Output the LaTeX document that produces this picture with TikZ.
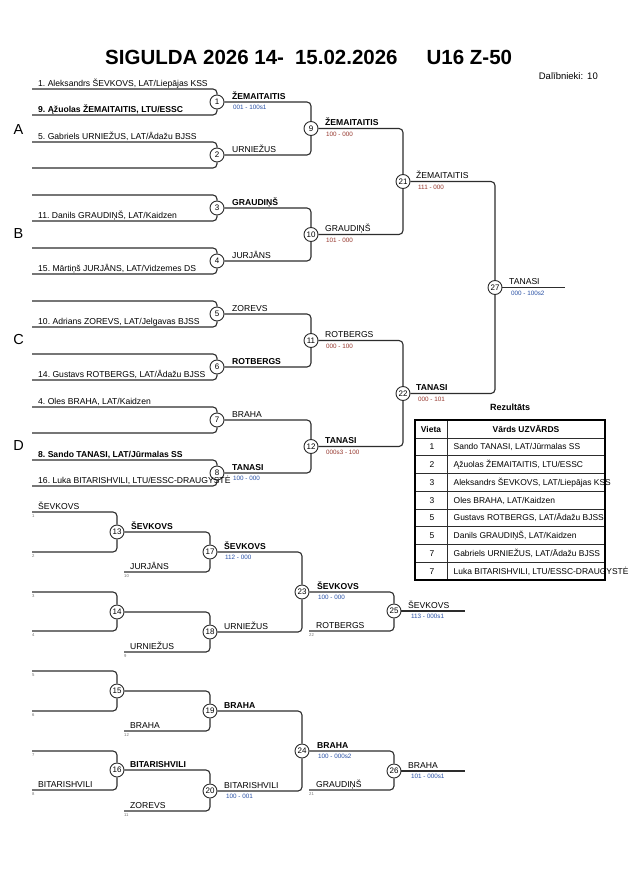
\documentclass[tikz,border=0pt]{standalone}
\usepackage{fontspec}
\setmainfont{Liberation Sans}
\definecolor{sblue}{RGB}{40,80,165}
\definecolor{sred}{RGB}{150,55,45}
\definecolor{lnc}{RGB}{45,45,45}
\frenchspacing
\begin{document}
\begin{tikzpicture}[x=1pt,y=-1pt,
  ln/.style={draw=lnc, line width=1.1pt, rounded corners=4pt},
  circ/.style={circle, draw=lnc, line width=0.9pt, fill=white, minimum size=14pt, inner sep=0pt, font=\fontsize{8}{9}\selectfont},
  txt/.style={anchor=base west, inner sep=0pt, font=\fontsize{8.6}{10}\selectfont},
  txtb/.style={anchor=base west, inner sep=0pt, font=\fontsize{8.6}{10}\selectfont\bfseries},
  score/.style={anchor=base west, inner sep=0pt, font=\fontsize{6.3}{7}\selectfont},
  sb/.style={score, text=sblue},
  sr/.style={score, text=sred},
  num/.style={anchor=base west, inner sep=0pt, font=\fontsize{4.2}{5}\selectfont, text=black!55},
  grp/.style={inner sep=0pt, font=\fontsize{14.5}{16}\selectfont},
  tline/.style={draw=lnc, line width=0.8pt},
  tcell/.style={anchor=base west, inner sep=0pt, font=\fontsize{8.45}{10}\selectfont},
  tnum/.style={anchor=base, inner sep=0pt, font=\fontsize{8.45}{10}\selectfont},
]
\useasboundingbox (0,0) rectangle (630,891);
\fill[white] (0,0) rectangle (630,891);

% title
\node[anchor=base west, inner sep=0pt, font=\fontsize{20.5}{24}\selectfont\bfseries] (title) at (105,65)
  {SIGULDA 2026 14-\hspace{11pt}15.02.2026\hspace{29pt}U16 Z-50};
\node[anchor=base east, inner sep=0pt, font=\fontsize{9.5}{11}\selectfont] (dal) at (598,79) {Dalībnieki:\hspace{4pt}10};

% ---------- main bracket ----------
\foreach \k/\yt in {1/89,2/142,3/195,4/248,5/301,6/354,7/407,8/460} {
  \node[circ] (m\k) at (217,\yt+13) {\k};
  \coordinate (t\k) at (32,\yt);
  \coordinate (b\k) at (32,\yt+26);
  \draw[ln] (t\k) -| (m\k);
  \draw[ln] (b\k) -| (m\k);
}
\node[circ] (m9) at (311,128.5) {9};
\node[circ] (m10) at (311,234.5) {10};
\node[circ] (m11) at (311,340.5) {11};
\node[circ] (m12) at (311,446.5) {12};
\node[circ] (m21) at (403,181.5) {21};
\node[circ] (m22) at (403,393.5) {22};
\node[circ] (m27) at (495,287.5) {27};
\coordinate (fin) at (565,287.5);

\draw[ln] (m1) -| (m9);  \draw[ln] (m2) -| (m9);
\draw[ln] (m3) -| (m10); \draw[ln] (m4) -| (m10);
\draw[ln] (m5) -| (m11); \draw[ln] (m6) -| (m11);
\draw[ln] (m7) -| (m12); \draw[ln] (m8) -| (m12);
\draw[ln] (m9) -| (m21); \draw[ln] (m10) -| (m21);
\draw[ln] (m11) -| (m22); \draw[ln] (m12) -| (m22);
\draw[ln] (m21) -| (m27); \draw[ln] (m22) -| (m27);
\draw[ln] (m27) -- (fin);

% group letters
\node[grp] (gA) at (18.5,129.5) {A};
\node[grp] (gB) at (18.5,234) {B};
\node[grp] (gC) at (18.5,339.5) {C};
\node[grp] (gD) at (18.5,446) {D};

% entries
\node[txt] (p1) at (38,86) {1. Aleksandrs ŠEVKOVS, LAT/Liepājas KSS};
\node[txtb] (p9) at (38,112) {9. Ąžuolas ŽEMAITAITIS, LTU/ESSC};
\node[txt] (p5) at (38,139) {5. Gabriels URNIEŽUS, LAT/Ādažu BJSS};
\node[txt] (p11) at (38,218) {11. Danils GRAUDIŅŠ, LAT/Kaidzen};
\node[txt] (p15) at (38,271) {15. Mārtiņš JURJĀNS, LAT/Vidzemes DS};
\node[txt] (p10) at (38,324) {10. Adrians ZOREVS, LAT/Jelgavas BJSS};
\node[txt] (p14) at (38,377) {14. Gustavs ROTBERGS, LAT/Ādažu BJSS};
\node[txt] (p4) at (38,404) {4. Oles BRAHA, LAT/Kaidzen};
\node[txtb] (p8) at (38,457) {8. Sando TANASI, LAT/Jūrmalas SS};
\node[txt] (p16) at (38,483) {16. Luka BITARISHVILI, LTU/ESSC-DRAUGYSTĖ};

% round 1 winners
\node[txtb] (w1) at (232,99) {ŽEMAITAITIS};
\node[sb] (s1) at (233,109.5) {001 - 100s1};
\node[txt] (w2) at (232,152) {URNIEŽUS};
\node[txtb] (w3) at (232,205) {GRAUDIŅŠ};
\node[txt] (w4) at (232,258) {JURJĀNS};
\node[txt] (w5) at (232,311) {ZOREVS};
\node[txtb] (w6) at (232,364) {ROTBERGS};
\node[txt] (w7) at (232,417) {BRAHA};
\node[txtb] (w8) at (232,470) {TANASI};
\node[sb] (s8) at (233,480.5) {100 - 000};

% round 2 winners
\node[txtb] (w9) at (325,125.5) {ŽEMAITAITIS};
\node[sr] (s9) at (326,136) {100 - 000};
\node[txt] (w10) at (325,231.5) {GRAUDIŅŠ};
\node[sr] (s10) at (326,242) {101 - 000};
\node[txt] (w11) at (325,337.5) {ROTBERGS};
\node[sr] (s11) at (326,348) {000 - 100};
\node[txtb] (w12) at (325,443.5) {TANASI};
\node[sr] (s12) at (326,454) {000s3 - 100};

% round 3 and final
\node[txt] (w21) at (416,178.5) {ŽEMAITAITIS};
\node[sr] (s21) at (418,189) {111 - 000};
\node[txtb] (w22) at (416,390.5) {TANASI};
\node[sr] (s22) at (418,401) {000 - 101};
\node[txt] (w27) at (509,284.5) {TANASI};
\node[sb] (s27) at (511,295) {000 - 100s2};

% ---------- results table ----------
\node[anchor=base, inner sep=0pt, font=\fontsize{9}{10}\selectfont\bfseries] (rez) at (510,410) {Rezultāts};
\foreach \i in {1,...,8} {
  \draw[tline] (415,{438+17.75*(\i-1)}) -- (605,{438+17.75*(\i-1)});
}
\draw[tline] (447,420) -- (447,580);
\draw[draw=black, line width=2pt] (415,420) rectangle (605,580);
\node[tnum, font=\fontsize{8.45}{10}\selectfont\bfseries] (hv) at (431,432) {Vieta};
\node[tnum, font=\fontsize{8.45}{10}\selectfont\bfseries] (hn) at (526,432) {Vārds UZVĀRDS};
\foreach \i/\pl/\nm in {1/1/{Sando TANASI, LAT/Jūrmalas SS},
                        2/2/{Ąžuolas ŽEMAITAITIS, LTU/ESSC},
                        3/3/{Aleksandrs ŠEVKOVS, LAT/Liepājas KSS},
                        4/3/{Oles BRAHA, LAT/Kaidzen},
                        5/5/{Gustavs ROTBERGS, LAT/Ādažu BJSS},
                        6/5/{Danils GRAUDIŅŠ, LAT/Kaidzen},
                        7/7/{Gabriels URNIEŽUS, LAT/Ādažu BJSS},
                        8/7/{Luka BITARISHVILI, LTU/ESSC-DRAUGYSTĖ}} {
  \node[tnum] (rp\i) at (432,{438+17.75*(\i-0.5)+3}) {\pl};
  \node[tcell] (rn\i) at (453.5,{438+17.75*(\i-0.5)+3}) {\nm};
}

% ---------- repechage block 1 ----------
\node[circ] (c13) at (117,532) {13};
\node[circ] (c14) at (117,612) {14};
\node[circ] (c17) at (210,552) {17};
\node[circ] (c18) at (210,632) {18};
\node[circ] (c23) at (302,592) {23};
\node[circ] (c25) at (394,611) {25};
\coordinate (r1) at (32,512);  \coordinate (r2) at (32,552);
\coordinate (r3) at (32,592);  \coordinate (r4) at (32,631);
\coordinate (r10) at (124,572); \coordinate (r9) at (124,652);
\coordinate (r22) at (309,631); \coordinate (f25) at (465,611);
\draw[ln] (r1) -| (c13); \draw[ln] (r2) -| (c13);
\draw[ln] (r3) -| (c14); \draw[ln] (r4) -| (c14);
\draw[ln] (c13) -| (c17); \draw[ln] (r10) -| (c17);
\draw[ln] (c14) -| (c18); \draw[ln] (r9) -| (c18);
\draw[ln] (c17) -| (c23); \draw[ln] (c18) -| (c23);
\draw[ln] (c23) -| (c25); \draw[ln] (r22) -| (c25);
\draw[ln] (c25) -- (f25);

\node[txt] (q1) at (38,509) {ŠEVKOVS};
\node[num] (n1) at (32,517) {1};
\node[num] (n2) at (32,557) {2};
\node[num] (n3) at (32,597) {3};
\node[num] (n4) at (32,636) {4};
\node[txtb] (q13) at (131,529) {ŠEVKOVS};
\node[txt] (q10) at (130,569) {JURJĀNS};
\node[num] (n10) at (124,577) {10};
\node[txt] (q9) at (130,649) {URNIEŽUS};
\node[num] (n9) at (124,657) {9};
\node[txtb] (q17) at (224,549) {ŠEVKOVS};
\node[sb] (s17) at (225,559.5) {112 - 000};
\node[txt] (q18) at (224,629) {URNIEŽUS};
\node[txtb] (q23) at (317,589) {ŠEVKOVS};
\node[sb] (s23) at (318,599.5) {100 - 000};
\node[txt] (q22) at (316,628) {ROTBERGS};
\node[num] (n22) at (309,636) {22};
\node[txt] (q25) at (408,608) {ŠEVKOVS};
\node[sb] (s25) at (411,618.5) {113 - 000s1};

% ---------- repechage block 2 ----------
\node[circ] (c15) at (117,691) {15};
\node[circ] (c16) at (117,770) {16};
\node[circ] (c19) at (210,711) {19};
\node[circ] (c20) at (210,791) {20};
\node[circ] (c24) at (302,751) {24};
\node[circ] (c26) at (394,771) {26};
\coordinate (r5) at (32,671);  \coordinate (r6) at (32,711);
\coordinate (r7) at (32,751);  \coordinate (r8) at (32,790);
\coordinate (r12) at (124,731); \coordinate (r11) at (124,811);
\coordinate (r21) at (309,790); \coordinate (f26) at (465,771);
\draw[ln] (r5) -| (c15); \draw[ln] (r6) -| (c15);
\draw[ln] (r7) -| (c16); \draw[ln] (r8) -| (c16);
\draw[ln] (c15) -| (c19); \draw[ln] (r12) -| (c19);
\draw[ln] (c16) -| (c20); \draw[ln] (r11) -| (c20);
\draw[ln] (c19) -| (c24); \draw[ln] (c20) -| (c24);
\draw[ln] (c24) -| (c26); \draw[ln] (r21) -| (c26);
\draw[ln] (c26) -- (f26);

\node[num] (n5) at (32,676) {5};
\node[num] (n6) at (32,716) {6};
\node[num] (n7) at (32,756) {7};
\node[txt] (q8) at (38,787) {BITARISHVILI};
\node[num] (n8) at (32,795) {8};
\node[txt] (q12) at (130,728) {BRAHA};
\node[num] (n12) at (124,736) {12};
\node[txtb] (q16) at (130,767) {BITARISHVILI};
\node[txt] (q11) at (130,808) {ZOREVS};
\node[num] (n11) at (124,816) {11};
\node[txtb] (q19) at (224,708) {BRAHA};
\node[txt] (q20) at (224,788) {BITARISHVILI};
\node[sb] (s20) at (226,798.5) {100 - 001};
\node[txtb] (q24) at (317,748) {BRAHA};
\node[sb] (s24) at (318,758.5) {100 - 000s2};
\node[txt] (q21) at (316,787) {GRAUDIŅŠ};
\node[num] (n21) at (309,795) {21};
\node[txt] (q26) at (408,768) {BRAHA};
\node[sb] (s26) at (411,778.5) {101 - 000s1};
\end{tikzpicture}
\end{document}
